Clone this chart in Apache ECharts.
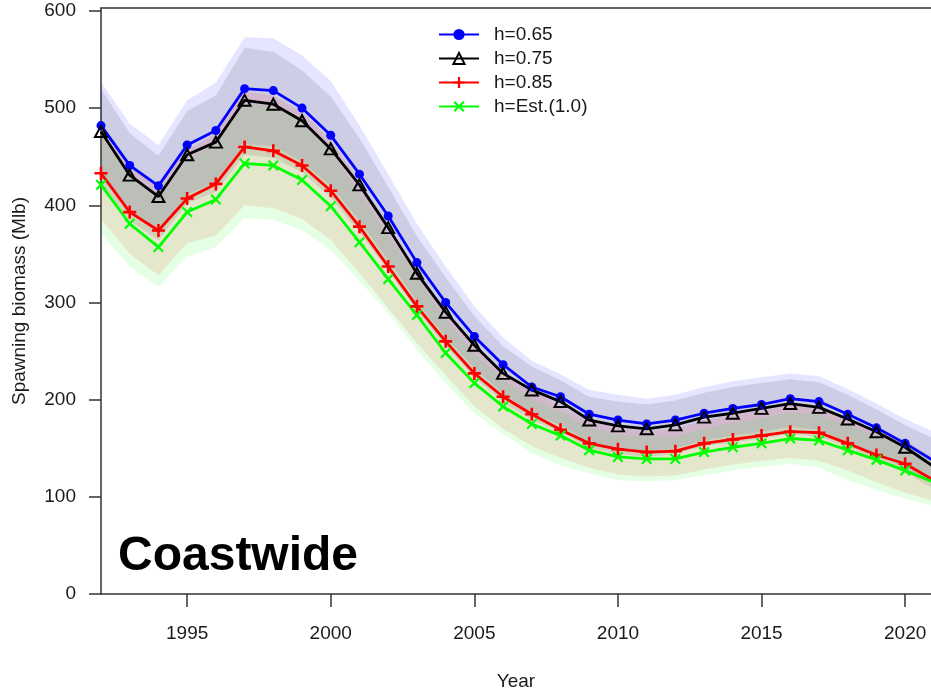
<!DOCTYPE html>
<html>
<head>
<meta charset="utf-8">
<script src="https://cdn.jsdelivr.net/npm/echarts@6/dist/echarts.min.js"></script>
<style>
  html, body { margin: 0; padding: 0; background: #fff; }
  #chart { width: 931px; height: 691px; }
</style>
</head>
<body>
<div id="chart"></div>
<script>
const years = [1992, 1993, 1994, 1995, 1996, 1997, 1998, 1999, 2000, 2001,
  2002, 2003, 2004, 2005, 2006, 2007, 2008, 2009, 2010, 2011,
  2012, 2013, 2014, 2015, 2016, 2017, 2018, 2019, 2020, 2021]
const xTicks = [1995, 2000, 2005, 2010, 2015, 2020]
const yTicks = [0, 100, 200, 300, 400, 500, 600]

// spawning biomass (Mlb) per steepness run
const h065 = [482, 441, 420, 462, 477, 520, 518, 500, 472, 432, 389, 341, 300, 265, 236, 213, 203, 185, 179, 175, 179, 186, 191, 195, 201, 198, 185, 171, 155, 137]
const h075 = [476, 431, 409, 452, 465, 508, 504, 487, 458, 421, 377, 330, 290, 256, 227, 210, 198, 179, 173, 170, 174, 182, 186, 191, 196, 192, 180, 167, 151, 131]
const h085 = [433, 393, 374, 407, 422, 460, 456, 441, 415, 378, 337, 296, 260, 227, 203, 185, 169, 155, 149, 146, 147, 155, 159, 163, 167, 166, 155, 143, 134, 117]
const hEst = [421, 381, 357, 393, 406, 443, 441, 426, 399, 362, 324, 287, 248, 217, 193, 175, 163, 148, 141, 139, 139, 146, 151, 155, 160, 158, 148, 138, 127, 115]

// interval bounds
const h065Hi = [527, 484, 462, 508, 526, 573, 572, 554, 528, 482, 432, 381, 337, 296, 264, 240, 226, 210, 205, 201, 205, 213, 219, 223, 227, 224, 211, 196, 180, 167]
const h065Lo = [429, 392, 373, 411, 424, 463, 461, 445, 420, 384, 344, 301, 264, 232, 206, 186, 174, 156, 150, 147, 150, 158, 163, 167, 172, 169, 157, 144, 130, 114]
const h075Hi = [520, 474, 451, 497, 513, 562, 558, 539, 512, 469, 419, 368, 326, 286, 255, 234, 220, 203, 198, 195, 199, 207, 213, 217, 221, 218, 205, 190, 174, 160]
const h075Lo = [423, 384, 364, 402, 414, 452, 449, 434, 408, 372, 333, 291, 255, 223, 197, 179, 167, 150, 144, 141, 144, 152, 156, 160, 165, 162, 151, 139, 125, 108]
const h085Hi = [486, 441, 420, 457, 474, 517, 513, 496, 467, 425, 380, 334, 293, 257, 230, 210, 193, 178, 171, 168, 170, 179, 184, 189, 194, 193, 181, 168, 158, 140]
const h085Lo = [386, 350, 328, 361, 369, 400, 397, 386, 364, 330, 294, 258, 225, 193, 170, 152, 140, 130, 123, 121, 122, 128, 133, 137, 140, 137, 127, 115, 104, 96]
const hEstHi = [478, 433, 407, 448, 463, 505, 502, 486, 455, 413, 369, 327, 283, 248, 221, 201, 188, 171, 164, 162, 162, 170, 176, 181, 187, 185, 174, 163, 152, 138]
const hEstLo = [371, 337, 316, 347, 357, 387, 385, 374, 354, 322, 289, 251, 217, 186, 165, 145, 132, 124, 117, 116, 117, 122, 127, 131, 134, 130, 117, 107, 98, 91]

const FONT = '"Liberation Sans", Arial, sans-serif'
const pairs = vals => years.map((y, i) => [y, vals[i]])

// shaded band as one polygon (upper edge, then lower edge back)
const band = (lo, hi, color) => ({
  type: 'custom',
  silent: true,
  z: 1,
  data: years.map((y, i) => [y, lo[i], hi[i]]),
  encode: { x: 0, y: [1, 2] },
  renderItem: (params, api) => {
    if (params.dataIndex !== 0) return
    const pts = []
    years.forEach((y, i) => pts.push(api.coord([y, hi[i]])))
    for (let i = years.length - 1; i >= 0; i--) pts.push(api.coord([years[i], lo[i]]))
    return { type: 'polygon', shape: { points: pts }, style: { fill: color } }
  }
})

const plusPath = 'path://M4,0H6V4H10V6H6V10H4V6H0V4H4Z'
const crossPath = 'path://M0,1.4L1.4,0L5,3.6L8.6,0L10,1.4L6.4,5L10,8.6L8.6,10L5,6.4L1.4,10L0,8.6L3.6,5Z'

const lines = [
  { name: 'h=0.65', data: h065, color: '#0000ff', symbol: 'circle', size: 9 },
  { name: 'h=0.75', data: h075, color: '#000000', symbol: 'triangle', size: [12, 11], hollow: true },
  { name: 'h=0.85', data: h085, color: '#ff0000', symbol: plusPath, size: 13 },
  { name: 'h=Est.(1.0)', data: hEst, color: '#00ff00', symbol: crossPath, size: 11 }
]

const chart = echarts.init(document.getElementById('chart'), null, { renderer: 'canvas' })

const axisLine = { show: true, lineStyle: { color: '#333', width: 1.5 } }

chart.setOption({
  animation: false,
  backgroundColor: '#fff',
  grid: { left: 101, right: 0, top: 8, bottom: 97, outerBoundsMode: 'none' },
  legend: {
    data: lines.map(l => l.name),
    orient: 'vertical',
    left: 433,
    top: 20,
    itemWidth: 40,
    itemHeight: 14,
    itemGap: 5,
    textStyle: { fontFamily: FONT, fontSize: 19, color: '#1a1a1a', padding: [0, 0, 0, 10] }
  },
  xAxis: [
    {
      type: 'value', min: 1992, max: 2020.9,
      name: 'Year', nameLocation: 'middle', nameGap: 78,
      nameTextStyle: { fontFamily: FONT, fontSize: 19, color: '#1a1a1a' },
      axisLine: axisLine,
      axisTick: { show: true, length: 13, customValues: xTicks, lineStyle: { color: '#333', width: 1.5 } },
      axisLabel: {
        customValues: xTicks, margin: 30, formatter: v => String(v),
        fontFamily: FONT, fontSize: 19, color: '#1a1a1a'
      },
      splitLine: { show: false }
    },
    {
      type: 'value', min: 1992, max: 2020.9, position: 'top',
      axisLine: axisLine, axisTick: { show: false }, axisLabel: { show: false },
      splitLine: { show: false }
    }
  ],
  yAxis: {
    type: 'value', min: 0, max: 603,
    name: 'Spawning biomass (Mlb)', nameLocation: 'middle', nameGap: 72,
    nameTextStyle: { fontFamily: FONT, fontSize: 19, color: '#1a1a1a' },
    axisLine: axisLine,
    axisTick: { show: true, length: 12, customValues: yTicks, lineStyle: { color: '#333', width: 1.5 } },
    axisLabel: {
      customValues: yTicks, margin: 25, formatter: v => String(v),
      fontFamily: FONT, fontSize: 19, color: '#1a1a1a'
    },
    splitLine: { show: false }
  },
  graphic: [{
    type: 'text', left: 118, top: 533,
    style: { text: 'Coastwide', font: 'bold 48px ' + FONT, fill: '#000' }
  }],
  series: [
    band(h065Lo, h065Hi, 'rgba(0,0,255,0.1)'),
    band(h075Lo, h075Hi, 'rgba(0,0,0,0.1)'),
    band(h085Lo, h085Hi, 'rgba(255,0,0,0.1)'),
    band(hEstLo, hEstHi, 'rgba(0,255,0,0.1)'),
    ...lines.map(l => ({
      type: 'line',
      name: l.name,
      data: pairs(l.data),
      symbol: l.symbol,
      symbolSize: l.size,
      showAllSymbol: true,
      z: 3,
      lineStyle: { color: l.color, width: 2.8 },
      itemStyle: l.hollow
        ? { color: 'rgba(255,255,255,0)', borderColor: l.color, borderWidth: 2 }
        : { color: l.color }
    }))
  ]
})
</script>
</body>
</html>
